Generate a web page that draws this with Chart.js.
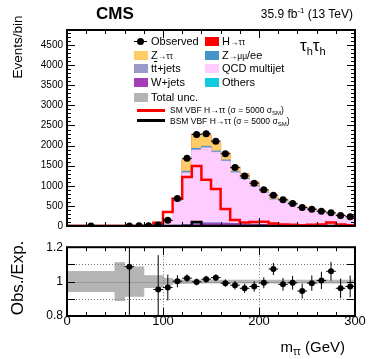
<!DOCTYPE html>
<html>
<head>
<meta charset="utf-8">
<script src="https://cdn.jsdelivr.net/npm/chart.js@4.4.1/dist/chart.umd.min.js"></script>
<style>
  body { margin: 0; background: #fff; }
  #wrap { position: relative; width: 374px; height: 359px; overflow: hidden; font-family: "Liberation Sans", Arial, sans-serif; color: #000; }
  canvas { position: absolute; left: 0; }
  .t { position: absolute; white-space: nowrap; line-height: 1; }
  .sw { position: absolute; width: 14px; height: 9px; }
  .lg { position: absolute; white-space: nowrap; line-height: 1; font-size: 11px; }
  .sm { font-size: 8.5px; }
</style>
</head>
<body>
<div id="wrap">
  <canvas id="mainChart" width="374" height="236" style="top:0"></canvas>
  <canvas id="ratioChart" width="374" height="123" style="top:236px"></canvas>

  <div class="t" style="left:96px;top:5px;font-size:17px;font-weight:bold;">CMS</div>
  <div class="t" style="right:21px;top:8px;font-size:12px;">35.9 fb<span style="font-size:8px;position:relative;top:-5px;">-1</span> (13 TeV)</div>
  <div class="t" style="left:300px;top:37px;font-size:17px;">τ<span style="font-size:11px;position:relative;top:4px;">h</span>τ<span style="font-size:11px;position:relative;top:4px;">h</span></div>

  <div class="t" style="left:17.5px;top:46.5px;font-size:13.5px;transform:translate(-50%,-50%) rotate(-90deg);">Events/bin</div>
  <div class="t" style="left:16.7px;top:277.5px;font-size:17px;transform:translate(-50%,-50%) rotate(-90deg);">Obs./Exp.</div>
  <div class="t" style="right:29px;top:339px;font-size:15px;">m<span style="font-size:10px;position:relative;top:3px;">ττ</span> (GeV)</div>

  <!-- legend -->
  <div style="position:absolute;left:134px;top:41px;width:13px;height:1px;background:#000;"></div>
  <div style="position:absolute;left:137px;top:38px;width:7px;height:7px;border-radius:50%;background:#000;"></div>
  <div class="lg" style="left:151px;top:36px;">Observed</div>
  <div class="sw" style="left:205px;top:37px;background:#ff0000;"></div>
  <div class="lg" style="left:222px;top:36px;">H<span class="sm">→ττ</span></div>

  <div class="sw" style="left:134px;top:50.5px;background:#ffcc66;"></div>
  <div class="lg" style="left:151px;top:49.6px;">Z<span class="sm">→ττ</span></div>
  <div class="sw" style="left:205px;top:50.5px;background:#4496c8;"></div>
  <div class="lg" style="left:222px;top:49.6px;">Z<span class="sm">→μμ</span>/ee</div>

  <div class="sw" style="left:134px;top:64.3px;background:#9999cc;"></div>
  <div class="lg" style="left:151px;top:63.4px;">t<span style="text-decoration:overline;">t</span>+jets</div>
  <div class="sw" style="left:205px;top:64.3px;background:#ffccff;"></div>
  <div class="lg" style="left:222px;top:63.4px;">QCD multijet</div>

  <div class="sw" style="left:134px;top:78.2px;background:#a53cb8;"></div>
  <div class="lg" style="left:151px;top:77.3px;">W+jets</div>
  <div class="sw" style="left:205px;top:78.2px;background:#12cadd;"></div>
  <div class="lg" style="left:222px;top:77.3px;">Others</div>

  <div class="sw" style="left:134px;top:92.5px;background:#b4b4b4;"></div>
  <div class="lg" style="left:151px;top:91.7px;">Total unc.</div>

  <div style="position:absolute;left:137px;top:108.5px;width:28px;height:3px;background:#ff0000;"></div>
  <div class="lg" style="left:170px;top:105.8px;font-size:8.5px;">SM VBF H→ττ (σ = 5000 σ<span style="font-size:6px;position:relative;top:2px;">SM</span>)</div>
  <div style="position:absolute;left:137px;top:119.2px;width:28px;height:3px;background:#000;"></div>
  <div class="lg" style="left:170px;top:116.5px;font-size:8.5px;">BSM VBF H→ττ (σ = 5000 σ<span style="font-size:6px;position:relative;top:2px;">SM</span>)</div>
</div>

<script>
// bins in m_tautau (GeV)
const binEdges = [0, 50, 60, 70, 80, 90, 100, 110, 120, 130, 140, 150, 160, 170, 180, 190, 200, 210, 220, 230, 240, 250, 260, 270, 280, 290, 300];

const observed = [2, null, 3, 4, 6, 25, 140, 685, 1683, 2277, 2294, 2111, 1798, 1452, 1245, 1064, 899, 767, 652, 561, 458, 417, 368, 329, 259, 231];

// expected components
const wJets   = [0, 0, 0, 0, 0, 2, 3, 15, 30, 50, 70, 70, 65, 55, 45, 40, 35, 30, 26, 22, 20, 18, 15, 13, 12, 10];
const others  = [0, 0, 0, 0, 0, 1, 1, 2, 4, 5, 5, 4, 4, 4, 3, 3, 3, 3, 2, 2, 2, 2, 2, 2, 1, 1];
const qcd     = [2, 1, 2, 3, 5, 18, 125, 594, 1281, 1826, 1862, 1748, 1533, 1258, 1107, 930, 784, 611, 574, 489, 420, 365, 318, 269, 235, 207];
const ttJets  = [0, 0, 0, 0, 0, 1, 2, 8, 15, 18, 20, 20, 20, 18, 16, 15, 14, 13, 12, 11, 10, 9, 8, 8, 7, 7];
const zLL     = [0, 0, 0, 0, 0, 2, 5, 15, 30, 30, 25, 20, 18, 15, 12, 10, 8, 7, 6, 5, 5, 4, 4, 3, 3, 3];
const zTauTau = [0, 0, 0, 0, 1, 2, 8, 45, 280, 340, 270, 195, 170, 130, 110, 95, 60, 50, 42, 35, 28, 22, 18, 15, 12, 10];
const hTauTau = [0, 0, 0, 0, 0, 0, 1, 5, 10, 12, 10, 6, 4, 3, 2, 2, 1, 1, 1, 1, 0, 0, 0, 0, 0, 0];

// signal shapes, sigma = 5000 sigma_SM
const smVbf  = [0, 0, 0, 0, 5, 80, 350, 680, 1220, 1490, 1150, 920, 420, 150, 90, 100, 107, 60, 40, 30, 20, 30, 40, 90, 40, 20];
const bsmVbf = [0, 0, 0, 0, 0, 0, 0, 0, 0, 100, 0, 0, 0, 0, 0, 0, 0, 0, 0, 0, 0, 0, 0, 0, 0, 0];

// ratio panel
const ratio    = [null, null, 1.087, null, null, 0.954, 0.966, 1.002, 1.02, 0.998, 1.014, 1.023, 0.991, 0.979, 0.961, 0.972, 0.993, 1.073, 0.984, 0.993, 0.945, 0.991, 1.007, 1.06, 0.961, 0.972];
const ratioErr = [0, 0, 1.0, 0, 0, 0.2, 0.075, 0.035, 0.022, 0.02, 0.02, 0.02, 0.022, 0.025, 0.027, 0.03, 0.032, 0.035, 0.037, 0.04, 0.043, 0.045, 0.05, 0.055, 0.057, 0.063];
const totalUnc = [0.058, 0.11, 0.085, 0.085, 0.034, 0.034, 0.018, 0.01, 0.009, 0.008, 0.008, 0.008, 0.008, 0.008, 0.008, 0.008, 0.008, 0.008, 0.008, 0.008, 0.008, 0.008, 0.008, 0.008, 0.008, 0.008];

const mainTicks = [0, 500, 1000, 1500, 2000, 2500, 3000, 3500, 4000, 4500];
const ratioTicks = [0.8, 0.9, 1, 1.1, 1.2];
const massTicks = [0, 100, 200, 300];

Chart.defaults.font.family = '"Liberation Sans", Arial, sans-serif';
Chart.defaults.color = '#000';

const centers = binEdges.slice(0, -1).map((e, i) => (e + binEdges[i + 1]) / 2);

// histogram as a stepped line: one point per left edge, last value repeated at the end
function stepData(values) {
  return binEdges.map((e, i) => ({ x: e, y: values[Math.min(i, values.length - 1)] }));
}

// ROOT-like frame with inward ticks
function framePlugin(xMinor, xMajor, yMinor, yMajor) {
  return {
    id: 'frame',
    afterDraw(chart) {
      const { ctx, chartArea: a, scales: { x, y } } = chart;
      ctx.save();
      ctx.strokeStyle = '#000';
      ctx.lineWidth = 1;
      ctx.beginPath();
      let n = Math.round((x.max - x.min) / xMinor);
      for (let i = 0; i <= n; i++) {
        const v = x.min + i * xMinor;
        const px = Math.round(x.getPixelForValue(v)) + 0.5;
        const len = Math.abs(v / xMajor - Math.round(v / xMajor)) < 1e-6 ? 8 : 4;
        ctx.moveTo(px, a.bottom); ctx.lineTo(px, a.bottom - len);
        ctx.moveTo(px, a.top); ctx.lineTo(px, a.top + len);
      }
      n = Math.round((y.max - y.min) / yMinor);
      for (let i = 0; i <= n; i++) {
        const v = y.min + i * yMinor;
        if (v > y.max + 1e-9) break;
        const py = Math.round(y.getPixelForValue(v)) + 0.5;
        const len = Math.abs(v / yMajor - Math.round(v / yMajor)) < 1e-6 ? 8 : 4;
        ctx.moveTo(a.left, py); ctx.lineTo(a.left + len, py);
        ctx.moveTo(a.right, py); ctx.lineTo(a.right - len, py);
      }
      ctx.stroke();
      ctx.lineWidth = 2;
      ctx.strokeRect(a.left, a.top, a.right - a.left, a.bottom - a.top);
      ctx.restore();
    }
  };
}

function errorBarPlugin(values, errors) {
  return {
    id: 'errorBars',
    afterDatasetsDraw(chart) {
      const { ctx, chartArea: a, scales: { x, y } } = chart;
      ctx.save();
      ctx.beginPath();
      ctx.rect(a.left, a.top, a.right - a.left, a.bottom - a.top);
      ctx.clip();
      ctx.strokeStyle = '#000';
      ctx.lineWidth = 1;
      ctx.beginPath();
      values.forEach((v, i) => {
        if (v == null) return;
        const e = errors(i);
        const px = x.getPixelForValue(centers[i]);
        const py = y.getPixelForValue(v);
        ctx.moveTo(x.getPixelForValue(binEdges[i]), py);
        ctx.lineTo(x.getPixelForValue(binEdges[i + 1]), py);
        ctx.moveTo(px, y.getPixelForValue(v - e));
        ctx.lineTo(px, y.getPixelForValue(v + e));
      });
      ctx.stroke();
      ctx.restore();
    }
  };
}

// ---------- main panel ----------
const stackOrder = [
  { label: 'W+jets', values: wJets, color: '#a53cb8' },
  { label: 'Others', values: others, color: '#12cadd' },
  { label: 'QCD multijet', values: qcd, color: '#ffccff' },
  { label: 'tt+jets', values: ttJets, color: '#9999cc' },
  { label: 'Z->mumu/ee', values: zLL, color: '#4496c8' },
  { label: 'Z->tautau', values: zTauTau, color: '#ffcc66' },
  { label: 'H->tautau', values: hTauTau, color: '#ff0000' }
];

let running = centers.map(() => 0);
const stackSets = stackOrder.map((s, k) => {
  running = running.map((v, i) => v + s.values[i]);
  return {
    label: s.label,
    data: stepData(running),
    stepped: true,
    fill: k === 0 ? 'origin' : '-1',
    backgroundColor: s.color,
    borderColor: s.color,
    borderWidth: 1,
    pointRadius: 0,
    order: 5
  };
});

const obsPoints = [];
observed.forEach((v, i) => { if (v != null) obsPoints.push({ x: centers[i], y: v }); });

new Chart(document.getElementById('mainChart'), {
  type: 'line',
  data: {
    datasets: stackSets.concat([
      { label: 'SM VBF', data: stepData(smVbf), stepped: true, fill: false, borderColor: '#ff0000', borderWidth: 2.5, pointRadius: 0, order: 2 },
      { label: 'BSM VBF', data: stepData(bsmVbf), stepped: true, fill: false, borderColor: '#000', borderWidth: 2.5, pointRadius: 0, order: 2 },
      { label: 'Observed', data: obsPoints, showLine: false, pointRadius: 3.5, pointBackgroundColor: '#000', pointBorderWidth: 0, order: 0 }
    ])
  },
  options: {
    responsive: false,
    animation: false,
    layout: { padding: { left: 0, right: 19, top: 30, bottom: 9 } },
    plugins: { legend: { display: false }, tooltip: { enabled: false } },
    scales: {
      x: { type: 'linear', min: 0, max: 300, display: false },
      y: {
        min: 0,
        max: 4875,
        afterFit(s) { s.width = 67; },
        afterBuildTicks(s) { s.ticks = mainTicks.map(v => ({ value: v })); },
        ticks: { font: { size: 10 }, padding: 4, callback: v => String(v) },
        grid: { display: false, drawTicks: false },
        border: { display: false }
      }
    }
  },
  plugins: [framePlugin(20, 100, 100, 500), errorBarPlugin(observed, i => Math.sqrt(observed[i]))]
});

// ---------- ratio panel ----------
const ratioPoints = [];
ratio.forEach((v, i) => { if (v != null) ratioPoints.push({ x: centers[i], y: v }); });

const ratioGrid = {
  id: 'ratioGrid',
  afterDatasetDraw(chart, args) {
    if (args.index !== 0) return;
    const { ctx, chartArea: a, scales: { x, y } } = chart;
    ctx.save();
    ctx.strokeStyle = '#777';
    ctx.lineWidth = 1;
    ctx.setLineDash([1, 2]);
    ctx.beginPath();
    [0.9, 1.1].forEach(v => {
      const py = Math.round(y.getPixelForValue(v)) + 0.5;
      ctx.moveTo(a.left, py); ctx.lineTo(a.right, py);
    });
    [100, 200].forEach(v => {
      const px = Math.round(x.getPixelForValue(v)) + 0.5;
      ctx.moveTo(px, a.top); ctx.lineTo(px, a.bottom);
    });
    ctx.stroke();
    ctx.setLineDash([]);
    ctx.strokeStyle = '#999';
    ctx.beginPath();
    const p1 = Math.round(y.getPixelForValue(1)) + 0.5;
    ctx.moveTo(a.left, p1); ctx.lineTo(a.right, p1);
    ctx.stroke();
    ctx.restore();
  }
};

new Chart(document.getElementById('ratioChart'), {
  type: 'line',
  data: {
    datasets: [
      { label: 'unc up', data: stepData(totalUnc.map(u => 1 + u)), stepped: true, fill: false, borderColor: '#b4b4b4', borderWidth: 1, pointRadius: 0, order: 5 },
      { label: 'Total unc.', data: stepData(totalUnc.map(u => 1 - u)), stepped: true, fill: '-1', backgroundColor: '#b4b4b4', borderColor: '#b4b4b4', borderWidth: 1, pointRadius: 0, order: 5 },
      { label: 'Obs./Exp.', data: ratioPoints, showLine: false, pointRadius: 3, pointBackgroundColor: '#000', pointBorderWidth: 0, order: 0 }
    ]
  },
  options: {
    responsive: false,
    animation: false,
    layout: { padding: { left: 0, right: 19, top: 5, bottom: 0 } },
    plugins: { legend: { display: false }, tooltip: { enabled: false } },
    scales: {
      x: {
        type: 'linear', min: 0, max: 300,
        afterFit(s) { s.height = 43; },
        afterBuildTicks(s) { s.ticks = massTicks.map(v => ({ value: v })); },
        ticks: { font: { size: 13 }, padding: -2, maxRotation: 0, callback: v => String(v) },
        grid: { display: false, drawTicks: false },
        border: { display: false }
      },
      y: {
        min: 0.8, max: 1.2,
        afterFit(s) { s.width = 67; },
        afterBuildTicks(s) { s.ticks = ratioTicks.map(v => ({ value: v })); },
        ticks: { font: { size: 12 }, padding: 4, callback: v => String(Math.round(v * 10) / 10) },
        grid: { display: false, drawTicks: false },
        border: { display: false }
      }
    }
  },
  plugins: [ratioGrid, framePlugin(20, 100, 0.1, 0.1), errorBarPlugin(ratio, i => ratioErr[i])]
});
</script>
</body>
</html>
